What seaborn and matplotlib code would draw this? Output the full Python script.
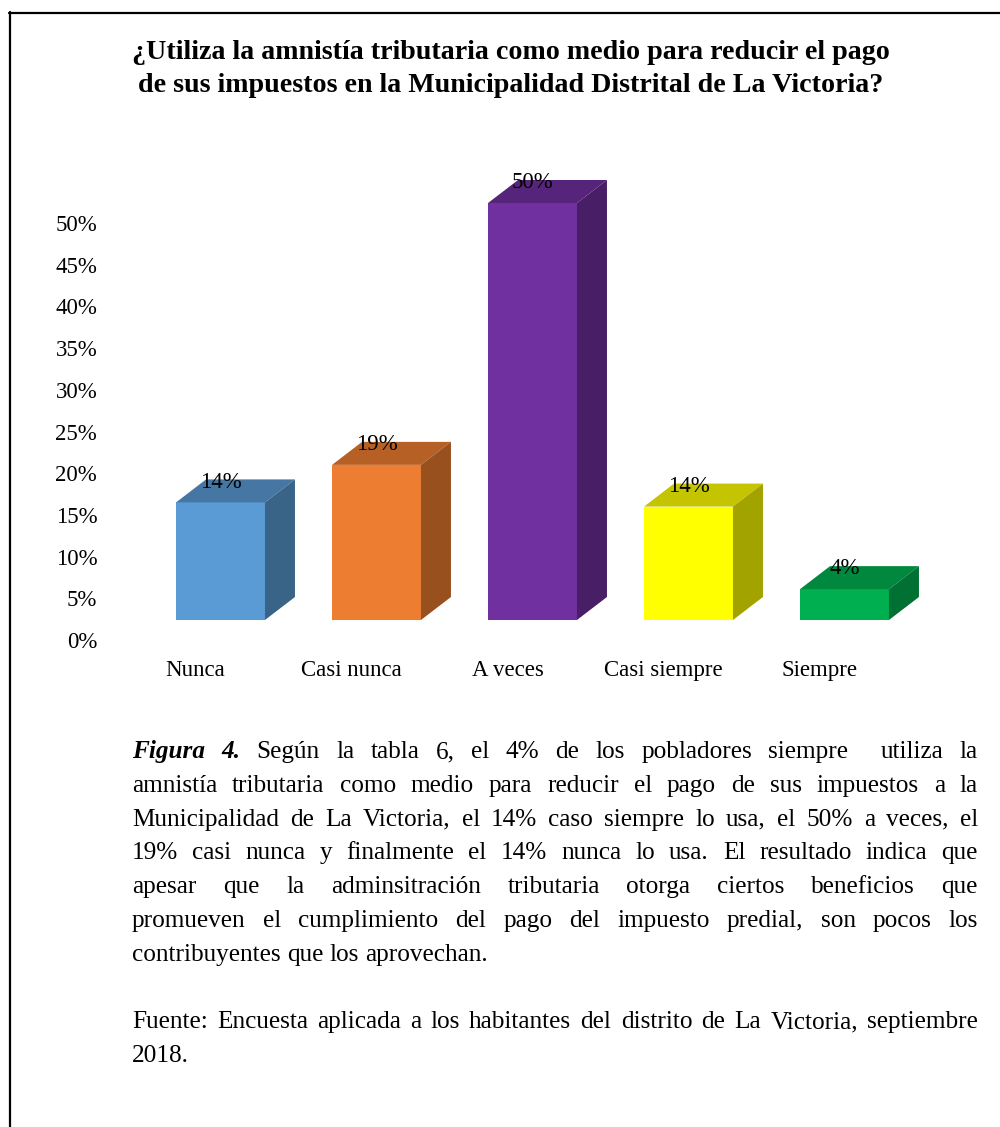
import numpy as np
import matplotlib
matplotlib.use("Agg")
import matplotlib.pyplot as plt
import seaborn as sns
from matplotlib.patches import Polygon
from matplotlib.lines import Line2D
from matplotlib.colors import to_rgb

# ---- data ----
categories = ["Nunca", "Casi nunca", "A veces", "Casi siempre", "Siempre"]
values = [14.1, 18.6, 50.0, 13.6, 3.7]
bar_labels = ["14%", "19%", "50%", "14%", "4%"]
y_ticks = [0, 5, 10, 15, 20, 25, 30, 35, 40, 45, 50]
front_colors = ["#5B9BD5", "#ED7D31", "#7030A0", "#FFFF00", "#00B050"]

title_lines = [
    "¿Utiliza la amnistía tributaria como medio para reducir el pago",
    "de sus impuestos en la Municipalidad Distrital de La Victoria?",
]
body_lines = [
    "Según la tabla 6, el 4% de los pobladores siempre  utiliza la",
    "amnistía tributaria como medio para reducir el pago de sus impuestos a la",
    "Municipalidad de La Victoria, el 14% caso siempre lo usa, el 50% a veces, el",
    "19% casi nunca y finalmente el 14% nunca lo usa. El resultado indica que",
    "apesar que la adminsitración tributaria otorga ciertos beneficios que",
    "promueven el cumplimiento del pago del impuesto predial, son pocos los",
    "contribuyentes que los aprovechan.",
]
source_lines = [
    "Fuente: Encuesta aplicada a los habitantes del distrito de La Victoria, septiembre",
    "2018.",
]

# ---- layout (pixels) ----
W, H = 1000, 1127
SERIF = ["Liberation Serif", "DejaVu Serif"]
PX_UNIT = 8.34          # pixels per percentage point
SLOT = 156              # pixels per category
X0_PX = 220.5           # centre of first bar
BASE_PX = 620           # front base of bars
TICK_SHIFT = 20 / PX_UNIT
DX = 30 / SLOT
DY = 23 / PX_UNIT
AX_L, AX_R, AX_T, AX_B = 100, 960, 140, 645
BODY_SIZE = 18.2


def shade(c, f):
    r, g, b = to_rgb(c)
    return (r * f, g * f, b * f)


def put_line(fig, renderer, tokens, base_px, x_left, x_right, size, justify):
    arts, widths = [], []
    for word, wt, st in tokens:
        t = fig.text(0, 0, word, fontsize=size, family=SERIF, weight=wt,
                     style=st, va="baseline", ha="left", color="black")
        arts.append(t)
        widths.append(t.get_window_extent(renderer).width if word else 0.0)
    space = size * fig.dpi / 72 * 0.25
    gaps = len(tokens) - 1
    if justify and gaps > 0:
        space = (x_right - x_left - sum(widths)) / gaps
    x = x_left
    for t, w in zip(arts, widths):
        t.set_position((x / W, 1 - base_px / H))
        x += w + space


def main():
    sns.set_style("white")
    plt.rcParams["font.family"] = SERIF
    plt.rcParams["text.color"] = "black"
    plt.rcParams["xtick.color"] = "black"
    plt.rcParams["ytick.color"] = "black"
    fig = plt.figure(figsize=(W / 100, H / 100), dpi=100)
    ax = fig.add_axes([AX_L / W, 1 - AX_B / H, (AX_R - AX_L) / W, (AX_B - AX_T) / H])

    sns.barplot(x=categories, y=values, hue=categories, palette=front_colors,
                width=0.57, saturation=1, linewidth=0, legend=False, ax=ax)

    bars = sorted(ax.patches, key=lambda p: p.get_x())
    for p, col, lab in zip(bars, front_colors, bar_labels):
        x0, w, h = p.get_x(), p.get_width(), p.get_height()
        x1 = x0 + w
        ax.add_patch(Polygon([(x0, h), (x1, h), (x1 + DX, h + DY), (x0 + DX, h + DY)],
                             closed=True, facecolor=shade(col, 0.77), lw=0))
        ax.add_patch(Polygon([(x1, 0), (x1 + DX, DY), (x1 + DX, h + DY), (x1, h)],
                             closed=True, facecolor=shade(col, 0.64), lw=0))
        ax.annotate(lab, (x0 + w / 2, h + DY), xytext=(0, -2), textcoords="offset points",
                    ha="center", va="center", fontsize=16.5, color="black")

    ax.set_xlim((AX_L - X0_PX) / SLOT, (AX_R - X0_PX) / SLOT)
    ax.set_ylim((BASE_PX - AX_B) / PX_UNIT, (BASE_PX - AX_T) / PX_UNIT)
    ax.set_yticks([t - TICK_SHIFT for t in y_ticks])
    ax.set_yticklabels([f"{t}%" for t in y_ticks], fontsize=16.5)
    ax.set_xticks([i - 25 / SLOT for i in range(len(categories))])
    ax.set_xticklabels(categories, fontsize=16.5)
    ax.tick_params(axis="both", length=0)
    ax.tick_params(axis="y", pad=2)
    ax.tick_params(axis="x", pad=11)
    ax.set_xlabel("")
    ax.set_ylabel("")
    for s in ax.spines.values():
        s.set_visible(False)
    ax.patch.set_alpha(0)

    # frame
    fig.add_artist(Line2D([9 / W, 1], [1 - 12.5 / H] * 2, transform=fig.transFigure,
                          color="black", lw=1.6))
    fig.add_artist(Line2D([9.5 / W] * 2, [1 - 12 / H, 0], transform=fig.transFigure,
                          color="black", lw=1.6))

    # title
    for line, base in zip(title_lines, [59, 92]):
        fig.text(511 / W, 1 - base / H, line, ha="center", va="baseline",
                 fontsize=20.2, weight="bold", color="black")

    renderer = fig.canvas.get_renderer()
    left, right = 132, 978
    for i, line in enumerate(body_lines):
        toks = [(w, "normal", "normal") for w in line.split(" ")]
        if i == 0:
            toks = [("Figura", "bold", "italic"), ("4.", "bold", "italic")] + toks
        put_line(fig, renderer, toks, 758 + i * 33.8, left, right, BODY_SIZE,
                 justify=i < len(body_lines) - 1)
    for i, line in enumerate(source_lines):
        toks = [(w, "normal", "normal") for w in line.split(" ")]
        put_line(fig, renderer, toks, 1028 + i * 33.8, left, right, BODY_SIZE,
                 justify=i < len(source_lines) - 1)

    fig.savefig("out.png", dpi=100, facecolor="white")
    plt.close(fig)


if __name__ == "__main__":
    main()
